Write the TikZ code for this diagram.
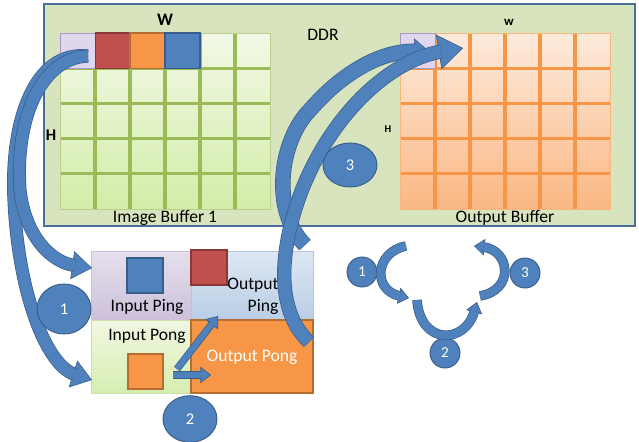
\documentclass[tikz,border=0pt]{standalone}
\usepackage{fontspec}
\setmainfont{Carlito}
\usetikzlibrary{arrows.meta,shapes.geometric}
\definecolor{ablue}{HTML}{4F81BD}
\definecolor{adark}{HTML}{385D8A}
\definecolor{ddrfill}{HTML}{D7E4BD}
\definecolor{ddrline}{HTML}{4A6E9A}
\definecolor{gline}{HTML}{9BBB59}
\definecolor{gtop}{HTML}{F2F8E6}
\definecolor{gbot}{HTML}{D3EDA8}
\definecolor{oline}{HTML}{F79646}
\definecolor{otop}{HTML}{FDEBDD}
\definecolor{obot}{HTML}{FAB783}
\definecolor{lav}{HTML}{E0D7EE}
\definecolor{lavline}{HTML}{A898C2}
\definecolor{redc}{HTML}{C0504D}
\definecolor{redl}{HTML}{8C3836}
\definecolor{orc}{HTML}{F79646}
\definecolor{orl}{HTML}{B66D31}
\newcommand\bandarrow[5]{%
  \draw[adark, line width=0.5pt, -{Triangle[length=#2, width=#3, fill=ablue]}] #5;
  \draw[adark, line width=#1+1.2pt, shorten >=#4] #5;
  \draw[ablue, line width=#1, shorten >=#4] #5;
}
\tikzset{
  lbl/.style={font=\fontsize{15}{17}\selectfont, inner sep=0pt},
  numc/.style={ellipse, fill=ablue, draw=adark, line width=0.8pt, text=white, inner sep=0pt, font=\fontsize{14}{16}\selectfont},
  smallc/.style={circle, fill=ablue, draw=adark, line width=0.8pt, text=white, inner sep=0pt, minimum size=0.9cm, font=\fontsize{13}{15}\selectfont},
}
\begin{document}
\begin{tikzpicture}[x=0.03cm,y=-0.03cm]
\useasboundingbox (0,0) rectangle (639,441);
\fill[white] (0,0) rectangle (639,441);
% DDR box
\fill[ddrfill] (44,4) rectangle (635,226);
\draw[ddrline, line width=1.3pt] (44,4) rectangle (635,226);
% grids
\foreach \r in {0,...,4}{
  \pgfmathtruncatemacro\pa{20*\r}
  \pgfmathtruncatemacro\pb{20*(\r+1)}
  \foreach \c in {0,...,5}{
    \shade[top color=gbot!\pa!gtop, bottom color=gbot!\pb!gtop] (60+35*\c,33+35.2*\r) rectangle (95+35*\c,68.2+35.2*\r);
    \shade[top color=obot!\pa!otop, bottom color=obot!\pb!otop] (400+35*\c,33+35.2*\r) rectangle (435+35*\c,68.2+35.2*\r);
  }
}
\foreach \c in {1,...,5}{
  \draw[gline, line width=2.6pt] (60+35*\c,33) -- (60+35*\c,209);
  \draw[oline, line width=2.6pt] (400+35*\c,33) -- (400+35*\c,209);
}
\foreach \r in {1,...,4}{
  \draw[gline, line width=2.6pt] (60,33+35.2*\r) -- (270,33+35.2*\r);
  \draw[oline, line width=2.6pt] (400,33+35.2*\r) -- (610,33+35.2*\r);
}
\draw[gline!70, line width=0.5pt] (60,33) rectangle (270,209);
\draw[oline!70, line width=0.5pt] (400,33) rectangle (610,209);
% top row coloured cells
\draw[lavline, fill=lav, line width=0.6pt] (60,33) rectangle (95,68);
\draw[redl, fill=redc, line width=0.9pt] (95.5,33) rectangle (130,68.5);
\draw[orl, fill=orc, line width=0.9pt] (130,33) rectangle (165,68.5);
\draw[adark, fill=ablue, line width=0.9pt] (165,33) rectangle (200,68.5);
\draw[lavline, fill=lav, line width=0.6pt] (400,33) rectangle (435,68);
% labels
\node[font=\fontsize{15}{17}\selectfont\bfseries, inner sep=0pt] (W) at (165,20) {W};
\node[font=\fontsize{14}{16}\selectfont\bfseries, inner sep=0pt] (H) at (51,135) {H};
\node[font=\fontsize{11}{13}\selectfont\bfseries, inner sep=0pt] (w2) at (509,22) {w};
\node[font=\fontsize{9}{11}\selectfont\bfseries, inner sep=0pt] (H2) at (388,129) {H};
\node[lbl] (ddr) at (323,35) {DDR};
\node[lbl] (ib1) at (165,218) {Image Buffer 1};
\node[lbl] (ob) at (505,218) {Output Buffer};
% ping pong box
\shade[top color={rgb,255:red,230;green,224;blue,236}, bottom color={rgb,255:red,204;green,192;blue,218}] (91,251) rectangle (191,320);
\draw[lavline!60, line width=0.5pt] (91,251) rectangle (191,320);
\shade[top color={rgb,255:red,222;green,232;blue,244}, bottom color={rgb,255:red,185;green,205;blue,229}] (191,251) rectangle (313,320);
\draw[ablue!45, line width=0.5pt] (191,251) rectangle (313,320);
\shade[top color={rgb,255:red,240;green,247;blue,226}, bottom color={rgb,255:red,214;green,238;blue,176}] (91,320) rectangle (191,393);
\draw[gline!50, line width=0.5pt] (91,320) rectangle (191,393);
\draw[orl, fill=orc, line width=1.2pt] (191,320) rectangle (313,393);
\draw[adark, fill=ablue, line width=0.9pt] (127,258) rectangle (163,293);
\draw[redl, fill=redc, line width=0.9pt] (191,250) rectangle (227,285);
\draw[orl, fill=orc, line width=0.9pt] (128,354) rectangle (163,389);
\node[lbl] (inping) at (147,307) {Input Ping};
\node[lbl] (inpong) at (147,336) {Input Pong};
\node[lbl] (outpa) at (253,285) {Output};
\node[lbl] (outpb) at (263,307) {Ping};
\node[lbl, text=white] (outpong) at (252,357) {Output Pong};
% box arrows
\coordinate (d1s) at (177,369);
\coordinate (d1e) at (218,316);
\coordinate (d2s) at (173,375);
\coordinate (d2e) at (211,375);
\bandarrow{5pt}{9pt}{14pt}{8pt}{(d1s) -- (d1e)}
\bandarrow{5pt}{9pt}{14pt}{8pt}{(d2s) -- (d2e)}
% big arrows 1
\coordinate (l0) at (88,56);
\coordinate (l1e) at (92,268);
\coordinate (l2e) at (92,380);
\coordinate (l1m) at (20,190);
\coordinate (l2m) at (14,200);
\bandarrow{10pt}{17pt}{24pt}{15pt}{(l0) .. controls (35,50) and (10,120) .. (l2m) .. controls (18,290) and (45,365) .. (l2e)}
\bandarrow{10pt}{17pt}{24pt}{15pt}{(l0) .. controls (40,58) and (15,120) .. (l1m) .. controls (25,235) and (50,262) .. (l1e)}
% big arrows 3
\coordinate (r1s) at (305,245);
\coordinate (r1m) at (310,110);
\coordinate (r1e) at (430,52);
\coordinate (r2s) at (309,342);
\coordinate (r2m) at (300,195);
\coordinate (r2e) at (463,48);
\bandarrow{12pt}{14pt}{22pt}{12pt}{(r1s) .. controls (270,210) and (280,140) .. (r1m) .. controls (340,75) and (380,50) .. (r1e)}
\bandarrow{11pt}{21pt}{30pt}{19pt}{(r2s) .. controls (275,310) and (280,250) .. (r2m) .. controls (330,115) and (390,60) .. (r2e)}
% numbered ellipses
\node[numc, minimum width=1.62cm, minimum height=1.5cm] (n1) at (64,309) {1};
\node[numc, minimum width=1.62cm, minimum height=1.4cm] (n2) at (190,419) {2};
\node[numc, minimum width=1.62cm, minimum height=1.32cm] (n3) at (350,165) {3};
% cycle
\node[smallc] (c1) at (362,272) {1};
\node[smallc] (c2) at (445,353) {2};
\node[smallc] (c3) at (525,273) {3};
\coordinate (k1s) at (406,246);
\coordinate (k1e) at (409,298);
\coordinate (k2s) at (417,300);
\coordinate (k2e) at (477,302);
\coordinate (k3s) at (480,296);
\coordinate (k3e) at (474,246);
\bandarrow{7pt}{9pt}{14pt}{8pt}{(k1s) .. controls (375,252) and (372,290) .. (k1e)}
\bandarrow{7pt}{9pt}{14pt}{8pt}{(k2s) .. controls (420,345) and (465,345) .. (k2e)}
\bandarrow{7pt}{9pt}{14pt}{8pt}{(k3s) .. controls (515,290) and (510,250) .. (k3e)}
\end{tikzpicture}
\end{document}
